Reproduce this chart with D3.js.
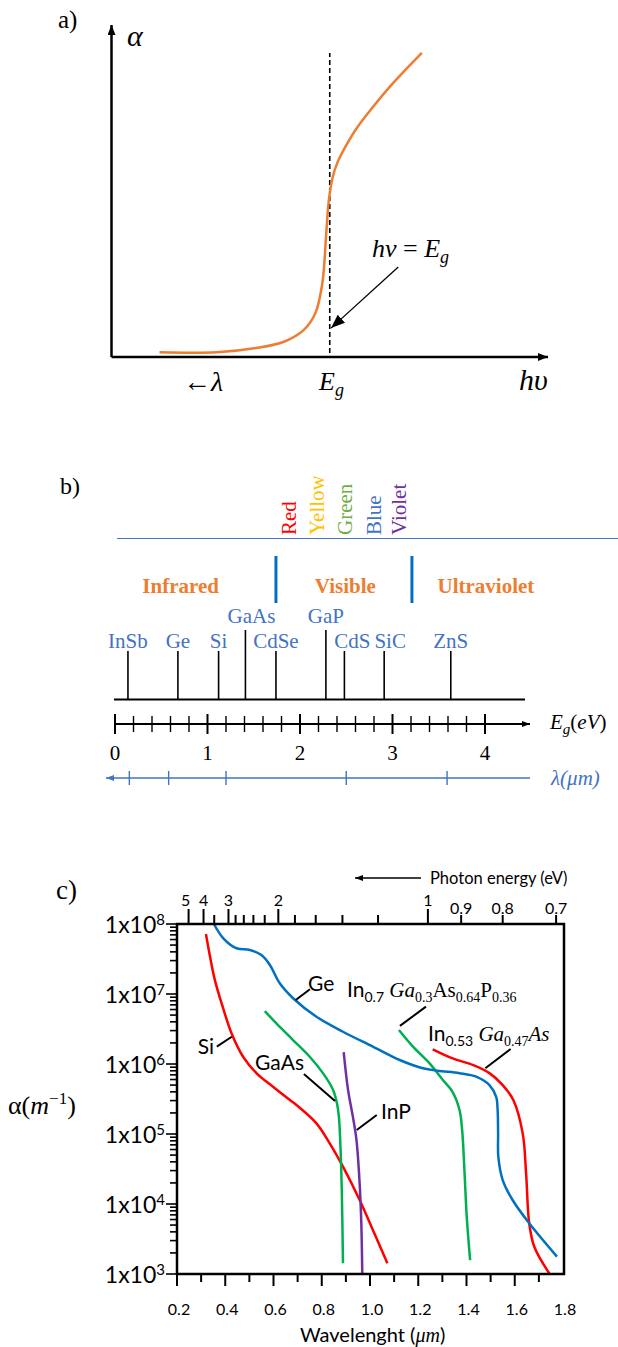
<!DOCTYPE html>
<html lang="en">
<head>
<meta charset="UTF-8">
<title>Absorption edge, band gaps and absorption coefficients</title>
<style>
  body { margin: 0; background: #fff; }
  .serif { font-family: "Liberation Serif", "DejaVu Serif", serif; }
  .sans { font-family: Lato, "Open Sans", sans-serif; }
  .it { font-style: italic; }
</style>
</head>
<body>
<div id="chart"></div>
<script src="https://d3js.org/d3.v7.min.js"></script>
<script>
// ---------- data ----------
// a) schematic absorption edge (relative units, gap at 0.5)
const edgeEnergy = [0.110, 0.241, 0.331, 0.395, 0.440, 0.467, 0.483, 0.492, 0.498, 0.507, 0.518, 0.537, 0.562, 0.597, 0.643, 0.711];
const edgeAlpha  = [0.014, 0.014, 0.027, 0.046, 0.081, 0.132, 0.222, 0.373, 0.473, 0.543, 0.587, 0.636, 0.690, 0.750, 0.822, 0.916];
const gapEnergy = 0.5;

// b) band gaps (eV)
const materials = ["InSb", "Ge", "Si", "GaAs", "CdSe", "GaP", "CdS", "SiC", "ZnS"];
const bandGaps  = [0.14, 0.68, 1.12, 1.41, 1.74, 2.28, 2.48, 2.91, 3.63];
const raised    = ["GaAs", "GaP"];
const colourNames  = ["Red", "Yellow", "Green", "Blue", "Violet"];
const colourEnergy = [1.88, 2.18, 2.49, 2.80, 3.07];
const colourFill   = ["#ff0000", "#ffc000", "#70ad47", "#4472c4", "#7030a0"];
const regionNames  = ["Infrared", "Visible", "Ultraviolet"];
const regionCentre = [0.71, 2.49, 4.01];
const regionLimits = [1.74, 3.21];
const eVLabels = [0, 1, 2, 3, 4];
const lambdaTickEnergy = [0.155, 0.58, 1.2, 2.5, 3.59];

// c) absorption coefficient vs wavelength (um, 1/m)
const geLambda = [0.353, 0.392, 0.447, 0.502, 0.550, 0.585, 0.626, 0.681, 0.778, 0.888, 1.012, 1.123, 1.219, 1.281, 1.371, 1.440, 1.495, 1.523, 1.529, 1.531, 1.532, 1.550, 1.591, 1.660, 1.775];
const geAlpha  = [1.0e8, 6.25e7, 4.5e7, 4.26e7, 3.6e7, 2.6e7, 1.42e7, 8.7e6, 4.74e6, 2.89e6, 1.77e6, 1.14e6, 8.7e5, 8.0e5, 7.4e5, 6.6e5, 5.0e5, 3.4e5, 2.2e5, 1.02e5, 4.7e4, 2.2e4, 1.14e4, 5.3e3, 1.77e3];
const siLambda = [0.320, 0.337, 0.357, 0.385, 0.426, 0.474, 0.530, 0.598, 0.668, 0.695, 0.778, 0.833, 0.888, 0.957, 1.012, 1.072];
const siAlpha  = [7.2e7, 3.41e7, 1.58e7, 7.36e6, 2.75e6, 1.27e6, 7.36e5, 4.74e5, 3.06e5, 2.6e5, 1.42e5, 7.36e4, 3.41e4, 1.14e4, 4.26e3, 1.42e3];
const gaasLambda = [0.564, 0.612, 0.681, 0.750, 0.805, 0.847, 0.863, 0.871, 0.877, 0.883, 0.888];
const gaasAlpha  = [5.7e6, 3.8e6, 2.2e6, 1.27e6, 7.4e5, 4.26e5, 2.75e5, 1.77e5, 7.4e4, 1.58e4, 1.42e3];
const inpLambda = [0.891, 0.909, 0.929, 0.944, 0.957, 0.964, 0.968];
const inpAlpha  = [1.48e6, 4.26e5, 1.77e5, 8.2e4, 1.98e4, 5.3e3, 1.0e3];
const ingaaspLambda = [1.120, 1.178, 1.247, 1.302, 1.342, 1.371, 1.382, 1.392, 1.401, 1.415];
const ingaaspAlpha  = [3.06e6, 1.77e6, 1.02e6, 5.9e5, 4.0e5, 2.2e5, 1.14e5, 2.75e4, 6.6e3, 1.58e3];
const ingaasLambda = [1.260, 1.343, 1.426, 1.495, 1.550, 1.594, 1.633, 1.647, 1.660, 1.681, 1.743];
const ingaasAlpha  = [1.62e6, 1.2e6, 9.7e5, 7.4e5, 5.0e5, 3.06e5, 1.02e5, 2.75e4, 5.3e3, 2.45e3, 1.02e3];
const photonTicks  = [5, 4, 3.5, 3, 2.8, 2.6, 2.4, 2.2, 2, 1.8, 1.6, 1.4, 1.2, 1, 0.9, 0.8, 0.7];
const photonLabels = [5, 4, 3, 2, 1, 0.9, 0.8, 0.7];
const decadeExps = [3, 4, 5, 6, 7, 8];

// ---------- svg ----------
const W = 618, H = 1347;
const svg = d3.select("#chart").append("svg")
    .attr("width", W).attr("height", H);
svg.append("rect").attr("width", W).attr("height", H).attr("fill", "#fff");

const defs = svg.append("defs");
function arrowHead(id, len, wid, colour) {
    defs.append("marker")
        .attr("id", id)
        .attr("markerUnits", "userSpaceOnUse")
        .attr("viewBox", `0 0 ${len} ${wid}`)
        .attr("refX", len).attr("refY", wid / 2)
        .attr("markerWidth", len).attr("markerHeight", wid)
        .attr("orient", "auto")
        .append("path")
        .attr("d", `M0,0L${len},${wid / 2}L0,${wid}z`)
        .attr("fill", colour);
}
arrowHead("axisHead", 10, 8, "#000");
arrowHead("thinHead", 14, 11, "#000");
arrowHead("smallHead", 8, 6, "#000");
arrowHead("blueHead", 8, 6, "#4472c4");

// =============== a) ===============
const ax = d3.scaleLinear().domain([0, 1]).range([111.5, 548]);
const ay = d3.scaleLinear().domain([0, 1]).range([357, 25]);
const gA = svg.append("g");

gA.append("text").attr("class", "serif").attr("x", 58).attr("y", 28)
    .attr("font-size", 25).text("a)");

gA.append("line")
    .attr("x1", ax(0)).attr("y1", ay(0)).attr("x2", ax(1)).attr("y2", ay(0))
    .attr("stroke", "#000").attr("stroke-width", 2.5).attr("marker-end", "url(#axisHead)");
gA.append("line")
    .attr("x1", ax(0)).attr("y1", ay(0)).attr("x2", ax(0)).attr("y2", ay(1))
    .attr("stroke", "#000").attr("stroke-width", 2.5).attr("marker-end", "url(#axisHead)");

gA.append("line")
    .attr("x1", ax(gapEnergy)).attr("x2", ax(gapEnergy))
    .attr("y1", ay(0.012)).attr("y2", ay(0.916))
    .attr("stroke", "#000").attr("stroke-width", 1.6).attr("stroke-dasharray", "5,3");

const edgePts = edgeEnergy.map((e, i) => [e, edgeAlpha[i]]);
gA.append("path")
    .attr("d", d3.line().x(d => ax(d[0])).y(d => ay(d[1])).curve(d3.curveCatmullRom.alpha(0.5))(edgePts))
    .attr("fill", "none").attr("stroke", "#ed7d31").attr("stroke-width", 2.5);

gA.append("line")
    .attr("x1", ax(0.657)).attr("y1", ay(0.271))
    .attr("x2", ax(0.503)).attr("y2", ay(0.087))
    .attr("stroke", "#000").attr("stroke-width", 1.3).attr("marker-end", "url(#thinHead)");

const hv = gA.append("text").attr("class", "serif").attr("x", 372).attr("y", 257).attr("font-size", 26);
hv.append("tspan").attr("class", "it").text("hv");
hv.append("tspan").text(" = ");
hv.append("tspan").attr("class", "it").text("E");
hv.append("tspan").attr("class", "it").attr("font-size", 18).attr("dy", 6).text("g");

gA.append("text").attr("class", "serif it").attr("x", 127).attr("y", 46)
    .attr("font-size", 30).text("α");
gA.append("text").attr("class", "serif").attr("x", 183).attr("y", 391)
    .attr("font-size", 28).html('←<tspan font-style="italic">λ</tspan>');
const egA = gA.append("text").attr("class", "serif it").attr("x", 319).attr("y", 390).attr("font-size", 26);
egA.append("tspan").text("E");
egA.append("tspan").attr("font-size", 18).attr("dy", 6).text("g");
gA.append("text").attr("class", "serif it").attr("x", 519).attr("y", 390)
    .attr("font-size", 30).text("hυ");

// =============== b) ===============
const xB = d3.scaleLinear().domain([0, 4]).range([115, 485]);
const gB = svg.append("g");
const blue = "#4472c4";

gB.append("text").attr("class", "serif").attr("x", 60).attr("y", 494)
    .attr("font-size", 24).text("b)");

// colour words
gB.selectAll("text.colour").data(colourNames).join("text")
    .attr("class", "serif colour")
    .attr("transform", (d, i) => `translate(${xB(colourEnergy[i])},535) rotate(-90)`)
    .attr("dominant-baseline", "central")
    .attr("font-size", 21)
    .attr("fill", (d, i) => colourFill[i])
    .text(d => d);

gB.append("line").attr("x1", 117).attr("x2", W).attr("y1", 538.5).attr("y2", 538.5)
    .attr("stroke", blue).attr("stroke-width", 1.2);

gB.selectAll("line.limit").data(regionLimits).join("line")
    .attr("class", "limit")
    .attr("x1", d => xB(d)).attr("x2", d => xB(d))
    .attr("y1", 556).attr("y2", 603)
    .attr("stroke", "#0070c0").attr("stroke-width", 3);

gB.selectAll("text.region").data(regionNames).join("text")
    .attr("class", "serif region")
    .attr("x", (d, i) => xB(regionCentre[i]))
    .attr("y", 593)
    .attr("text-anchor", "middle")
    .attr("font-size", 21).attr("font-weight", "bold")
    .attr("fill", "#ed7d31")
    .text(d => d);

// material lines
const labelShift = { GaAs: 6, CdS: 8, SiC: 6 };
gB.append("line").attr("x1", 114).attr("x2", 525).attr("y1", 699.5).attr("y2", 699.5)
    .attr("stroke", "#000").attr("stroke-width", 2);
gB.selectAll("line.mat").data(materials).join("line")
    .attr("class", "mat")
    .attr("x1", (d, i) => xB(bandGaps[i])).attr("x2", (d, i) => xB(bandGaps[i]))
    .attr("y1", 699.5)
    .attr("y2", d => raised.includes(d) ? 630 : 651)
    .attr("stroke", "#000").attr("stroke-width", 1.6);
gB.selectAll("text.mat").data(materials).join("text")
    .attr("class", "serif mat")
    .attr("x", (d, i) => xB(bandGaps[i]) + (labelShift[d] || 0))
    .attr("y", d => raised.includes(d) ? 623 : 648)
    .attr("text-anchor", "middle")
    .attr("font-size", 21).attr("fill", blue)
    .text(d => d);

// energy axis
const eAxisY = 724;
gB.append("line").attr("x1", xB(0)).attr("x2", 530).attr("y1", eAxisY).attr("y2", eAxisY)
    .attr("stroke", "#000").attr("stroke-width", 2).attr("marker-end", "url(#smallHead)");
gB.selectAll("line.etick").data(xB.ticks(20)).join("line")
    .attr("class", "etick")
    .attr("x1", d => xB(d)).attr("x2", d => xB(d))
    .attr("y1", d => eAxisY - (Number.isInteger(d) ? 10 : 8))
    .attr("y2", d => eAxisY + (Number.isInteger(d) ? 10 : 8))
    .attr("stroke", "#000").attr("stroke-width", d => Number.isInteger(d) ? 2 : 1.4);
gB.selectAll("text.elab").data(eVLabels).join("text")
    .attr("class", "serif elab")
    .attr("x", d => xB(d)).attr("y", 760)
    .attr("text-anchor", "middle").attr("font-size", 21)
    .text(d => d);
const egB = gB.append("text").attr("class", "serif").attr("x", 550).attr("y", 729).attr("font-size", 21);
egB.append("tspan").attr("class", "it").text("E");
egB.append("tspan").attr("class", "it").attr("font-size", 15).attr("dy", 5).text("g");
egB.append("tspan").attr("dy", -5).text("(");
egB.append("tspan").attr("class", "it").text("eV");
egB.append("tspan").text(")");

// wavelength axis
const lAxisY = 778;
gB.append("line").attr("x1", 530).attr("x2", 106).attr("y1", lAxisY).attr("y2", lAxisY)
    .attr("stroke", blue).attr("stroke-width", 1.4).attr("marker-end", "url(#blueHead)");
gB.selectAll("line.ltick").data(lambdaTickEnergy).join("line")
    .attr("class", "ltick")
    .attr("x1", d => xB(d)).attr("x2", d => xB(d))
    .attr("y1", lAxisY - 7).attr("y2", lAxisY + 7)
    .attr("stroke", blue).attr("stroke-width", 1.4);
const lamB = gB.append("text").attr("class", "serif it").attr("x", 551).attr("y", 785)
    .attr("font-size", 21).attr("fill", blue);
lamB.append("tspan").text("λ(");
lamB.append("tspan").text("μm");
lamB.append("tspan").text(")");

// =============== c) ===============
const x = d3.scaleLinear().domain([0.2, 1.8]).range([177, 563]);
const y = d3.scaleLog().domain([1e3, 1e8]).range([1274, 924]);
const gC = svg.append("g");
const box = { l: 177, r: 564, t: 924, b: 1274 };

gC.append("text").attr("class", "serif").attr("x", 56).attr("y", 899)
    .attr("font-size", 27).text("c)");

// y ticks
const yTicks = y.ticks();
gC.selectAll("line.ytick").data(yTicks).join("line")
    .attr("class", "ytick")
    .attr("x1", d => box.l - (Math.log10(d) % 1 === 0 ? 11 : 7)).attr("x2", box.l)
    .attr("y1", d => y(d)).attr("y2", d => y(d))
    .attr("stroke", "#000").attr("stroke-width", 1.6);
const yl = gC.selectAll("text.ylab").data(decadeExps).join("text")
    .attr("class", "sans ylab")
    .attr("x", 165).attr("y", d => y(Math.pow(10, d)) + 9)
    .attr("text-anchor", "end").attr("font-size", 23);
yl.append("tspan").text("1x10");
yl.append("tspan").attr("font-size", 15).attr("dy", -8).text(d => d);

// bottom ticks
gC.selectAll("line.xtick").data(x.ticks(16).slice(0, -1)).join("line")
    .attr("class", "xtick")
    .attr("x1", d => x(d)).attr("x2", d => x(d))
    .attr("y1", box.b).attr("y2", d => box.b + (Math.round(d * 10) % 2 === 0 ? 12 : 8))
    .attr("stroke", "#000").attr("stroke-width", 2);
gC.selectAll("text.xlab").data(x.ticks(8)).join("text")
    .attr("class", "sans xlab")
    .attr("x", d => x(d) + 2).attr("y", 1315)
    .attr("text-anchor", "middle").attr("font-size", 16)
    .text(d3.format(".1f"));
const wl = gC.append("text").attr("class", "sans").attr("x", 300).attr("y", 1342).attr("font-size", 20);
wl.append("tspan").text("Wavelenght (");
wl.append("tspan").attr("class", "serif it").text("μm");
wl.append("tspan").text(")");

// top photon-energy ticks
const ex = e => x(1.24 / e);
gC.selectAll("line.ptick").data(photonTicks).join("line")
    .attr("class", "ptick")
    .attr("x1", d => ex(d)).attr("x2", d => ex(d))
    .attr("y1", box.t).attr("y2", d => box.t - ([5, 4, 3, 2, 1].includes(d) ? 15 : 9))
    .attr("stroke", "#000").attr("stroke-width", 2);
gC.selectAll("text.plab").data(photonLabels).join("text")
    .attr("class", "sans plab")
    .attr("x", d => ex(d) + (d === 5 ? -3 : 0))
    .attr("y", d => d >= 1 ? 906 : 914)
    .attr("text-anchor", "middle").attr("font-size", 16)
    .text(d => d);
gC.append("line").attr("x1", 421).attr("x2", 355).attr("y1", 878).attr("y2", 878)
    .attr("stroke", "#000").attr("stroke-width", 1.6).attr("marker-end", "url(#smallHead)");
gC.append("text").attr("class", "sans").attr("x", 430).attr("y", 884)
    .attr("font-size", 16.5).text("Photon energy (eV)");

// y title
const yt = gC.append("text").attr("class", "serif").attr("x", 8).attr("y", 1114).attr("font-size", 26);
yt.append("tspan").text("α(");
yt.append("tspan").attr("class", "it").text("m");
yt.append("tspan").attr("font-size", 17).attr("dy", -10).text("−1");
yt.append("tspan").attr("dy", 10).text(")");

// curves
const series = [
    { lam: ingaasLambda, a: ingaasAlpha, c: "#ff0000" },
    { lam: ingaaspLambda, a: ingaaspAlpha, c: "#00b050" },
    { lam: geLambda, a: geAlpha, c: "#0070c0" },
    { lam: siLambda, a: siAlpha, c: "#ff0000" },
    { lam: gaasLambda, a: gaasAlpha, c: "#00b050" },
    { lam: inpLambda, a: inpAlpha, c: "#7030a0" }
];
const curve = d3.line().x(d => x(d[0])).y(d => y(d[1])).curve(d3.curveCatmullRom.alpha(0.5));
gC.selectAll("path.series").data(series).join("path")
    .attr("class", "series")
    .attr("d", s => curve(s.lam.map((l, i) => [l, s.a[i]])))
    .attr("fill", "none").attr("stroke", s => s.c).attr("stroke-width", 2.5);

gC.append("rect")
    .attr("x", box.l).attr("y", box.t).attr("width", box.r - box.l).attr("height", box.b - box.t)
    .attr("fill", "none").attr("stroke", "#000").attr("stroke-width", 2.5);

// leader lines: [lambda, alpha] on curve -> [lambda, alpha] at label
const leaders = [
    [[0.692, 8.2e6], [0.751, 1.17e7]],
    [[0.427, 2.45e6], [0.365, 1.77e6]],
    [[0.855, 2.96e5], [0.726, 7.2e5]],
    [[0.945, 1.14e5], [1.028, 1.87e5]],
    [[1.124, 3.5e6], [1.232, 6.6e6]],
    [[1.478, 8.7e5], [1.583, 1.64e6]]
];
gC.selectAll("line.leader").data(leaders).join("line")
    .attr("class", "leader")
    .attr("x1", d => x(d[0][0])).attr("y1", d => y(d[0][1]))
    .attr("x2", d => x(d[1][0])).attr("y2", d => y(d[1][1]))
    .attr("stroke", "#000").attr("stroke-width", 2);

function label(px, py, anchor, parts) {
    const t = gC.append("text").attr("x", px).attr("y", py).attr("text-anchor", anchor).attr("font-size", 21);
    parts.forEach(p => {
        const s = t.append("tspan").attr("class", p.f || "sans").text(p.t);
        if (p.sub) s.attr("font-size", 14).attr("dy", 5);
        if (p.back) s.attr("dy", -5);
    });
}
label(308, 991, "start", [{ t: "Ge" }]);
label(214, 1054, "end", [{ t: "Si" }]);
label(304, 1070, "end", [{ t: "GaAs" }]);
label(381, 1119, "start", [{ t: "InP" }]);
label(347, 997, "start", [
    { t: "In" }, { t: "0.7", sub: true },
    { t: " Ga", f: "serif it", back: true }, { t: "0.3", sub: true, f: "serif" },
    { t: "As", f: "serif", back: true }, { t: "0.64", sub: true, f: "serif" },
    { t: "P", f: "serif", back: true }, { t: "0.36", sub: true, f: "serif" }
]);
label(428, 1041, "start", [
    { t: "In" }, { t: "0.53", sub: true },
    { t: " Ga", f: "serif it", back: true }, { t: "0.47", sub: true, f: "serif" },
    { t: "As", f: "serif it", back: true }
]);
</script>
</body>
</html>
